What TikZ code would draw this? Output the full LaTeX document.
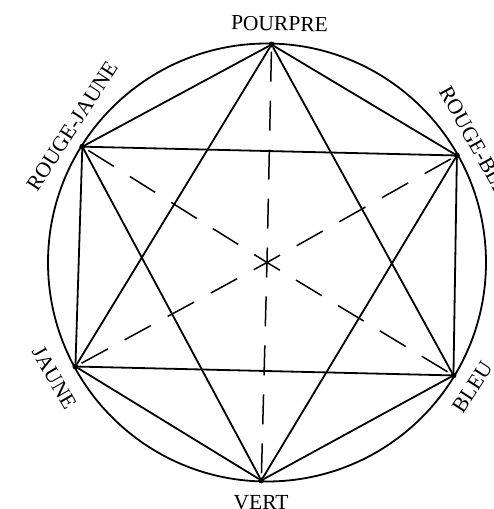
\documentclass[tikz,border=0pt]{standalone}
\usepackage{fontspec}
\setmainfont{Liberation Serif}

\begin{document}
\begin{tikzpicture}[
  x=1pt, y=1pt,
  every node/.style={font=\fontsize{21.5}{25}\selectfont, inner sep=0pt},
  couleur/.style={circle, fill=black, minimum size=6pt, inner sep=0pt},
  trait/.style={line width=1.8pt, line cap=round},
  axe/.style={line width=1.5pt, dash pattern=on 30pt off 19pt, dash phase=15pt}
]
  \useasboundingbox (-267,-246.5) rectangle (226,262.5);
  \coordinate (centre) at (0,0);
  \node[couleur] (pourpre) at (88.8:218) {};
  \node[couleur] (rougejaune) at (147.9:218) {};
  \node[couleur] (jaune) at (208.5:218) {};
  \node[couleur] (vert) at (268.5:218) {};
  \node[couleur] (bleu) at (328.8:218) {};
  \node[couleur] (rougebleu) at (29.4:218) {};
  \draw[trait] (centre) circle (219);
  \draw[trait] (pourpre) -- (rougejaune);
  \draw[trait] (rougejaune) -- (jaune);
  \draw[trait] (jaune) -- (vert);
  \draw[trait] (vert) -- (bleu);
  \draw[trait] (bleu) -- (rougebleu);
  \draw[trait] (rougebleu) -- (pourpre);
  \draw[trait] (pourpre) -- (jaune);
  \draw[trait] (jaune) -- (bleu);
  \draw[trait] (bleu) -- (pourpre);
  \draw[trait] (rougejaune) -- (rougebleu);
  \draw[trait] (rougebleu) -- (vert);
  \draw[trait] (vert) -- (rougejaune);
  \draw[axe] (centre) -- (pourpre);
  \draw[axe] (centre) -- (vert);
  \draw[axe] (centre) -- (rougejaune);
  \draw[axe] (centre) -- (bleu);
  \draw[axe] (centre) -- (rougebleu);
  \draw[axe] (centre) -- (jaune);
  \node[rotate=-1] (lpourpre) at (87:239) {POURPRE};
  \node[rotate=57] (lrougejaune) at (145:238) {ROUGE-JAUNE};
  \node[rotate=-60] (ljaune) at (208.5:242) {JAUNE};
  \node (lvert) at (268.6:240) {VERT};
  \node[rotate=57] (lbleu) at (328.8:240) {BLEU};
  \node[rotate=-61] (lrougebleu) at (28.5:240) {ROUGE-BLEU};
\end{tikzpicture}
\end{document}
